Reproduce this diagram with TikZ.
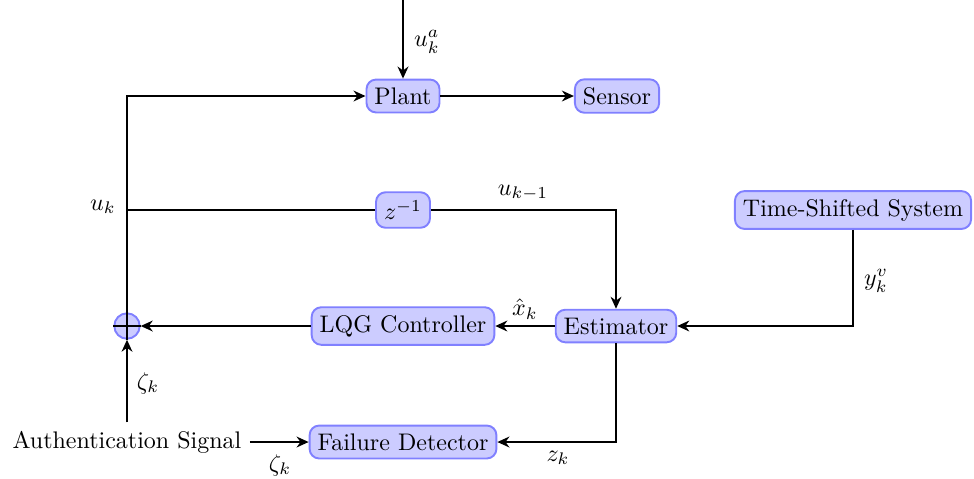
\documentclass[tikz,border=0pt]{standalone}
\usetikzlibrary{arrows.meta}
\begin{document}
\begin{tikzpicture}[x=0.41667pt,y=-0.41667pt,
  blk/.style={draw=blue!50, fill=blue!20, thick, rounded corners=4pt},
  sumnode/.style={circle, draw=blue!50, fill=blue!20, thick, minimum size=10.6pt, inner sep=0pt},
  arr/.style={thick, -{Stealth[length=5pt,width=4.5pt,inset=1.6pt]}},
  ln/.style={thick}]
\useasboundingbox (0,0) rectangle (974,478);
% blocks
\node[blk] (plant) at (403,96) {Plant};
\node[blk] (sensor) at (617,96) {Sensor};
\node[blk] (zinv) at (403,210) {$z^{-1}$};
\node[blk] (tss) at (853,210) {Time-Shifted System};
\node[blk] (est) at (616,326) {Estimator};
\node[blk] (lqg) at (403,326) {LQG Controller};
\node[blk] (fd) at (403,442) {Failure Detector};
\node[sumnode] (sum) at (127,326) {};
\node (auth) at (127,442) {Authentication Signal};
\coordinate (ua) at (403,0);
\coordinate (uk) at (127,210);
% connectors
\draw[arr] (ua) -- (plant.north);
\draw[arr] (plant.east) -- (sensor.west);
\draw[arr] (sum.north) |- (plant.west);
\draw[ln] (uk) -- (zinv.west);
\draw[arr] (zinv.east) -| (est.north);
\draw[arr] (tss.south) |- (est.east);
\draw[arr] (est.west) -- (lqg.east);
\draw[arr] (lqg.west) -- (sum.east);
\draw[arr] (est.south) |- (fd.east);
\draw[arr] (auth.east) -- (fd.west);
\draw[arr] (auth.north) -- (sum.south);
\draw[ln] (sum.west) -- (sum.east);
\draw[ln] (sum.north) -- (sum.south);
% labels
\node (lua) at (427,42) {$u_k^a$};
\node (luk) at (103,207) {$u_k$};
\node (lukm) at (523,193) {$u_{k-1}$};
\node (lxh) at (525,309) {$\hat{x}_k$};
\node (lyv) at (876,281) {$y_k^v$};
\node (lz1) at (148,383) {$\zeta_k$};
\node (lz2) at (280,465) {$\zeta_k$};
\node (lzk) at (558,458) {$z_k$};
\end{tikzpicture}
\end{document}
